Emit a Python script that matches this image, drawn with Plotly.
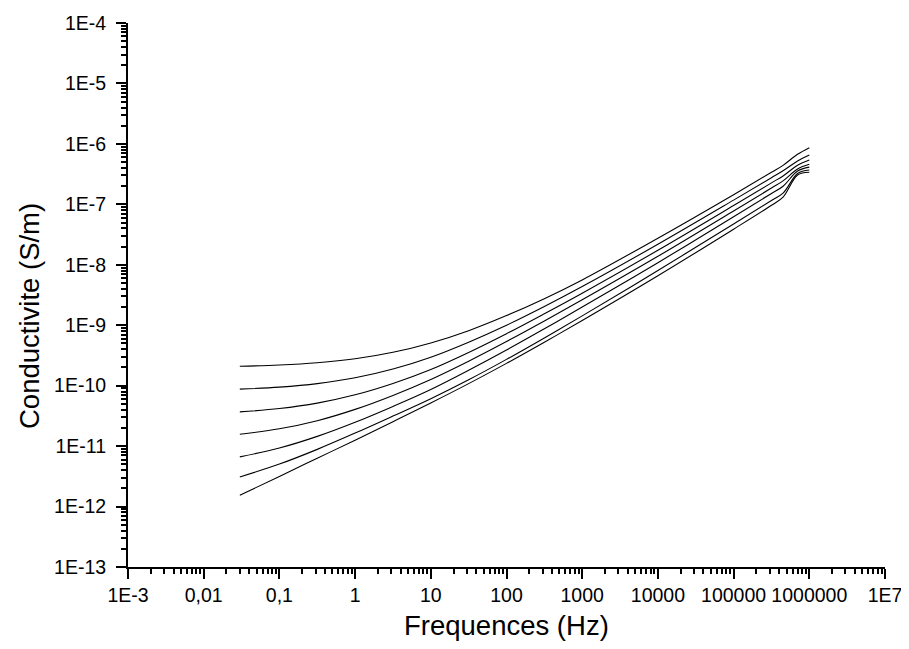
import plotly.graph_objects as go

# Frequencies (Hz)
freq = [0.03, 0.1, 0.3162, 1, 3.162, 10, 31.62, 100, 316.2, 1000, 1e4, 1e5, 3.162e5, 4.5e5, 7e5, 1e6]

# Conductivity curves (S/m), top to bottom
c1 = [2.096e-10, 2.196e-10, 2.39e-10, 2.78e-10, 3.56e-10, 5.09e-10, 8.128e-10, 1.445e-9, 2.754e-9, 5.623e-9, 2.754e-8, 1.445e-7, 3.388e-7, 4.416e-7, 6.73e-7, 8.65e-7]
c2 = [8.76e-11, 9.46e-11, 1.08e-10, 1.35e-10, 1.886e-10, 2.96e-10, 5.248e-10, 1.0e-9, 2.042e-9, 4.365e-9, 2.188e-8, 1.175e-7, 2.754e-7, 3.589e-7, 5.22e-7, 6.55e-7]
c3 = [3.68e-11, 4.18e-11, 5.14e-11, 7.06e-11, 1.088e-10, 1.852e-10, 3.548e-10, 7.244e-10, 1.549e-9, 3.388e-9, 1.738e-8, 9.55e-8, 2.265e-7, 2.951e-7, 4.42e-7, 5.41e-7]
c4 = [1.575e-11, 1.932e-11, 2.63e-11, 4.05e-11, 6.9e-11, 1.267e-10, 2.541e-10, 5.37e-10, 1.175e-9, 2.63e-9, 1.38e-8, 7.762e-8, 1.862e-7, 2.443e-7, 3.85e-7, 4.6e-7]
c5 = [6.64e-12, 9.3e-12, 1.448e-11, 2.48e-11, 4.54e-11, 8.65e-11, 1.799e-10, 3.89e-10, 8.71e-10, 1.995e-9, 1.084e-8, 6.237e-8, 1.514e-7, 1.995e-7, 3.55e-7, 4.13e-7]
c6 = [3.09e-12, 5.04e-12, 8.83e-12, 1.64e-11, 3.14e-11, 6.095e-11, 1.253e-10, 2.723e-10, 6.166e-10, 1.429e-9, 8.035e-9, 4.732e-8, 1.161e-7, 1.531e-7, 3.24e-7, 3.69e-7]
c7 = [1.538e-12, 3.155e-12, 6.295e-12, 1.256e-11, 2.535e-11, 5.176e-11, 1.081e-10, 2.339e-10, 5.236e-10, 1.199e-9, 6.592e-9, 3.882e-8, 9.638e-8, 1.318e-7, 3.05e-7, 3.39e-7]
curves = [c1, c2, c3, c4, c5, c6, c7]

# Axis ticks
x_tickvals = [1e-3, 1e-2, 1e-1, 1, 10, 100, 1000, 1e4, 1e5, 1e6, 1e7]
x_ticktext = ["1E-3", "0,01", "0,1", "1", "10", "100", "1000", "10000", "100000", "1000000", "1E7"]
y_tickvals = [1e-13, 1e-12, 1e-11, 1e-10, 1e-9, 1e-8, 1e-7, 1e-6, 1e-5, 1e-4]
y_ticktext = ["1E-13", "1E-12", "1E-11", "1E-10", "1E-9", "1E-8", "1E-7", "1E-6", "1E-5", "1E-4"]

x_minor = [m * v for v in x_tickvals[:-1] for m in range(2, 10)]
y_minor = [m * v for v in y_tickvals[:-1] for m in range(2, 10)]

fig = go.Figure()
for c in curves:
    fig.add_trace(go.Scatter(x=freq, y=c, mode="lines",
                             line=dict(color="black", width=1.1, shape="spline", smoothing=1.0),
                             showlegend=False, hoverinfo="skip"))

font_fam = "Arial, Liberation Sans, sans-serif"
axis_common = dict(
    type="log", showgrid=False, zeroline=False, showline=True, automargin=False,
    linecolor="black", linewidth=2, ticks="outside", ticklen=10, tickwidth=2,
    tickcolor="black", tickfont=dict(family=font_fam, size=19.5, color="black"),
    mirror=False,
)
fig.update_xaxes(range=[-3, 7], tickmode="array", tickvals=x_tickvals, ticktext=x_ticktext,
                 minor=dict(tickmode="array", tickvals=x_minor, ticks="outside", ticklen=5,
                            tickwidth=1.5, tickcolor="black", showgrid=False),
                 **axis_common)
fig.update_yaxes(range=[-13, -4], tickmode="array", tickvals=y_tickvals, ticktext=y_ticktext,
                 minor=dict(tickmode="array", tickvals=y_minor, ticks="outside", ticklen=5,
                            tickwidth=1.5, tickcolor="black", showgrid=False),
                 ticklabelstandoff=6,
                 **axis_common)

# page body adds an 8px offset, so the figure is sized/positioned to compensate
W, H = 901, 641
L, R, T, B = 120, 24, 15, 82
pw, ph = W - L - R, H - T - B

fig.add_annotation(text="Frequences (Hz)", xref="paper", yref="paper",
                   x=(498.5 - L) / pw, y=(H - B - 617) / ph, xanchor="center", yanchor="middle",
                   showarrow=False, font=dict(family=font_fam, size=27.5, color="black"))
fig.add_annotation(text="Conductivite (S/m)", xref="paper", yref="paper", textangle=-90,
                   x=(21 - L) / pw, y=(H - B - 308) / ph, xanchor="center", yanchor="middle",
                   showarrow=False, font=dict(family=font_fam, size=27.5, color="black"))

fig.update_layout(
    width=W, height=H,
    margin=dict(l=L, r=R, t=T, b=B),
    paper_bgcolor="white", plot_bgcolor="white",
    font=dict(family=font_fam, color="black"),
)

fig.write_html("out.html")
